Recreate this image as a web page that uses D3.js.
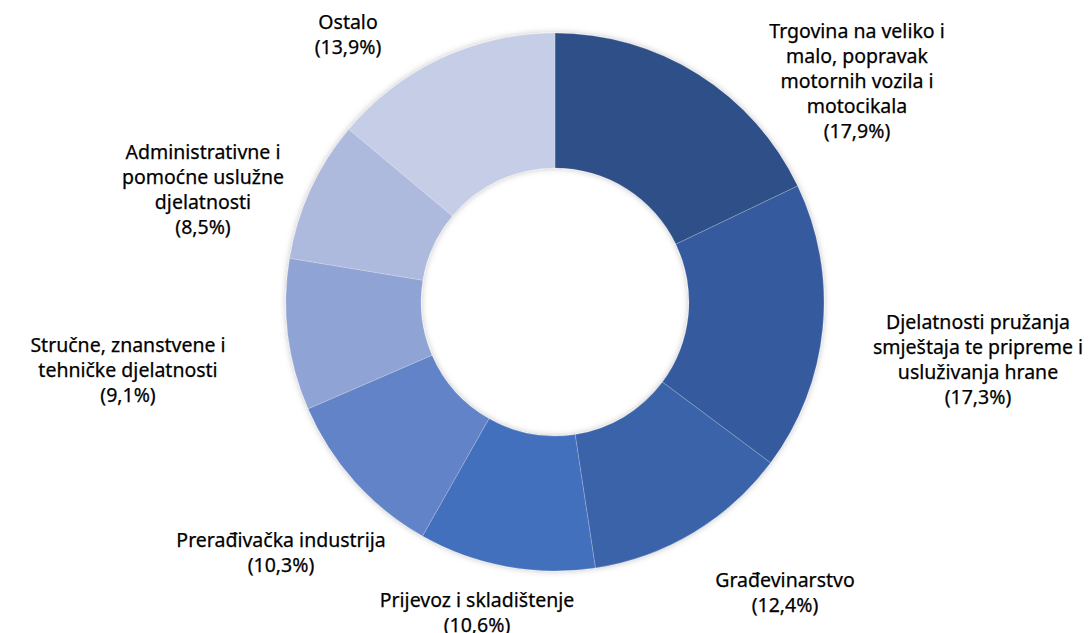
<!DOCTYPE html>
<html>
<head>
<meta charset="utf-8">
<script src="https://cdn.jsdelivr.net/npm/d3@7"></script>
<style>
  body { margin: 0; background: #fff; }
  text { font-family: "Noto Sans", sans-serif; font-size: 19.5px; fill: #000; stroke: #000; stroke-width: 0.25px; }
</style>
</head>
<body>
<svg id="chart"></svg>
<script>
// Data
const categories = [
    ["Trgovina na veliko i", "malo, popravak", "motornih vozila i", "motocikala"],
    ["Djelatnosti pružanja", "smještaja te pripreme i", "usluživanja hrane"],
    ["Građevinarstvo"],
    ["Prijevoz i skladištenje"],
    ["Prerađivačka industrija"],
    ["Stručne, znanstvene i", "tehničke djelatnosti"],
    ["Administrativne i", "pomoćne uslužne", "djelatnosti"],
    ["Ostalo"]
];
const shares = [17.9, 17.3, 12.4, 10.6, 10.3, 9.1, 8.5, 13.9];
const percentLabels = ["17,9%", "17,3%", "12,4%", "10,6%", "10,3%", "9,1%", "8,5%", "13,9%"];

const colors = ["#2e4f87", "#345a9e", "#3a63aa", "#426fbd", "#6283c8", "#8fa3d4", "#adbadd", "#c5cee6"];

// label centres (first line) relative to chart centre
const labelOffsets = [
    [302, -271], [423, 20], [230, 278], [-78, 298], [-274, 238], [-427, 43], [-352, -150], [-207, -280]
];

const width = 1089, height = 633;
const cx = 555, cy = 302;
const outerR = 269, innerR = 134;
const lineH = 25;

const svg = d3.select("#chart")
    .attr("width", width)
    .attr("height", height);

const defs = svg.append("defs");
const filter = defs.append("filter")
    .attr("id", "shadow")
    .attr("x", "-20%").attr("y", "-20%")
    .attr("width", "140%").attr("height", "140%");
filter.append("feDropShadow")
    .attr("dx", 0).attr("dy", 0)
    .attr("stdDeviation", 3)
    .attr("flood-color", "#000")
    .attr("flood-opacity", 0.25);

const pie = d3.pie().sort(null).value(d => d);
const arc = d3.arc().innerRadius(innerR).outerRadius(outerR);

const g = svg.append("g")
    .attr("transform", `translate(${cx},${cy})`);

g.append("g")
    .attr("filter", "url(#shadow)")
    .selectAll("path")
    .data(pie(shares))
    .enter()
    .append("path")
    .attr("d", arc)
    .attr("fill", (d, i) => colors[i])
    .attr("stroke", "rgba(255,255,255,0.25)")
    .attr("stroke-width", 0.8);

// Labels
const labels = g.append("g")
    .selectAll("text")
    .data(categories)
    .enter()
    .append("text")
    .attr("text-anchor", "middle")
    .attr("transform", (d, i) => `translate(${labelOffsets[i][0]},${labelOffsets[i][1]})`);

labels.each(function (lines, i) {
    const t = d3.select(this);
    const all = lines.concat([`(${percentLabels[i]})`]);
    all.forEach((line, j) => {
        t.append("tspan")
            .attr("x", 0)
            .attr("y", j * lineH)
            .attr("dy", "0.35em")
            .text(line);
    });
});
</script>
</body>
</html>
